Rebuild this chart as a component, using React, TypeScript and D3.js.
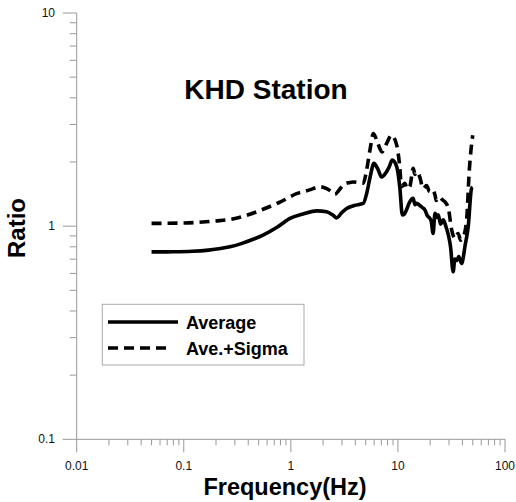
import React from "react";
import * as d3 from "d3";

const avgFreq = [0.05, 0.08, 0.12, 0.17, 0.22, 0.27, 0.35, 0.45, 0.55, 0.75, 0.98, 1.3, 1.74, 2.16, 2.45, 2.68, 3.0, 3.32, 3.9, 4.74, 5.1, 5.5, 5.97, 6.5, 7.04, 7.83, 8.3, 8.85, 9.74, 10.4, 11.0, 11.5, 12.0, 12.9, 13.9, 14.4, 15.0, 16.0, 17.0, 17.9, 18.8, 19.8, 20.5, 21.3, 22.2, 23.0, 23.8, 25.0, 26.5, 28.0, 29.6, 31.0, 32.8, 34.0, 35.3, 37.0, 39.4, 40.5, 42.2, 45.3, 48.7, 50];
const avgVal = [0.757, 0.758, 0.762, 0.772, 0.785, 0.8, 0.83, 0.87, 0.908, 0.99, 1.087, 1.14, 1.18, 1.167, 1.13, 1.094, 1.16, 1.21, 1.25, 1.278, 1.42, 1.7, 1.97, 1.85, 1.7, 1.8, 1.9, 2.04, 1.9, 1.53, 1.13, 1.14, 1.19, 1.3, 1.35, 1.26, 1.28, 1.25, 1.22, 1.19, 1.12, 1.09, 1.05, 0.924, 1.15, 1.1, 1.13, 1.02, 1.07, 1.0, 0.908, 0.8, 0.61, 0.7, 0.69, 0.72, 0.668, 0.7, 0.8, 0.99, 1.5, 1.52];

const sigFreq = [0.05, 0.1, 0.15, 0.2, 0.27, 0.4, 0.55, 0.8, 1.13, 1.5, 1.87, 2.16, 2.4, 2.58, 2.8, 3.09, 3.5, 3.83, 4.74, 5.1, 5.5, 5.9, 6.5, 7.1, 7.83, 8.7, 9.74, 10.4, 10.8, 11.6, 12.2, 12.9, 13.9, 14.4, 15.0, 16.0, 17.2, 18.5, 19.8, 21.0, 22.2, 22.8, 24.5, 26.0, 27.5, 29.6, 31.8, 34.1, 36.5, 38.5, 40.8, 43.8, 46.4, 50];
const sigVal = [1.03, 1.035, 1.045, 1.058, 1.075, 1.13, 1.2, 1.3, 1.42, 1.48, 1.53, 1.5, 1.45, 1.41, 1.47, 1.56, 1.6, 1.61, 1.59, 1.83, 2.3, 2.72, 2.44, 2.23, 2.44, 2.67, 2.4, 1.9, 1.53, 1.59, 1.5, 1.53, 1.87, 1.75, 1.8, 1.7, 1.5, 1.55, 1.45, 1.48, 1.4, 1.32, 1.37, 1.33, 1.3, 1.21, 0.958, 0.875, 0.924, 0.86, 0.89, 1.07, 1.83, 2.67];

const xTicks = [0.01, 0.1, 1, 10, 100];
const xTickLabels = ["0.01", "0.1", "1", "10", "100"];
const yTicks = [0.1, 1, 10];
const yTickLabels = ["0.1", "1", "10"];

const FONT = "Liberation Sans, Arial, sans-serif";

export default function App() {
  const x = d3.scaleLog().domain([0.01, 100]).range([76.7, 505]);
  const y = d3.scaleLog().domain([0.1, 10]).range([439.3, 13]);
  const line = d3
    .line<[number, number]>()
    .x((d) => x(d[0]))
    .y((d) => y(d[1]))
    .curve(d3.curveMonotoneX);
  const avgPts = avgFreq.map((f, i) => [f, avgVal[i]] as [number, number]);
  const sigPts = sigFreq.map((f, i) => [f, sigVal[i]] as [number, number]);

  const minorX: number[] = [];
  for (let e = -2; e < 2; e++) for (let k = 2; k <= 9; k++) minorX.push(k * Math.pow(10, e));
  const minorY: number[] = [];
  for (let e = -1; e < 1; e++) for (let k = 2; k <= 9; k++) minorY.push(k * Math.pow(10, e));
  const axisColor = "#999";

  return (
    <svg width={516} height={502} style={{ position: "absolute", left: 0, top: 0, background: "#fff" }}>
      <rect width={516} height={502} fill="#fff" />
      <line x1={x(0.01)} x2={x(100)} y1={y(0.1)} y2={y(0.1)} stroke={axisColor} strokeWidth={1} />
      <line x1={x(0.01)} x2={x(0.01)} y1={y(0.1)} y2={y(10)} stroke={axisColor} strokeWidth={1} />
      {xTicks.map((t) => (
        <line key={"xt" + t} x1={x(t)} x2={x(t)} y1={y(0.1)} y2={y(0.1) + 13} stroke={axisColor} />
      ))}
      {minorX.map((t) => (
        <line key={"xm" + t} x1={x(t)} x2={x(t)} y1={y(0.1)} y2={y(0.1) + 6} stroke={axisColor} />
      ))}
      {yTicks.map((t) => (
        <line key={"yt" + t} x1={x(0.01) - 14} x2={x(0.01)} y1={y(t)} y2={y(t)} stroke={axisColor} />
      ))}
      {minorY.map((t) => (
        <line key={"ym" + t} x1={x(0.01) - 7} x2={x(0.01)} y1={y(t)} y2={y(t)} stroke={axisColor} />
      ))}
      {xTicks.map((t, i) => (
        <text key={"xl" + t} x={x(t)} y={470} textAnchor="middle" fontFamily={FONT} fontSize={12} fill="#111">
          {xTickLabels[i]}
        </text>
      ))}
      {yTicks.map((t, i) => (
        <text key={"yl" + t} x={55} y={y(t) + 4} textAnchor="end" fontFamily={FONT} fontSize={12} fill="#111">
          {yTickLabels[i]}
        </text>
      ))}
      <text x={266} y={99} textAnchor="middle" fontFamily={FONT} fontWeight="bold" fontSize={28}>
        KHD Station
      </text>
      <text x={285} y={494.5} textAnchor="middle" fontFamily={FONT} fontWeight="bold" fontSize={23.5}>
        Frequency(Hz)
      </text>
      <text
        transform="translate(25,228) rotate(-90)"
        textAnchor="middle"
        fontFamily={FONT}
        fontWeight="bold"
        fontSize={24}
      >
        Ratio
      </text>
      <path d={line(sigPts) || ""} fill="none" stroke="#000" strokeWidth={3.6} strokeDasharray="10,6" />
      <path d={line(avgPts) || ""} fill="none" stroke="#000" strokeWidth={3.6} />
      <rect x={102.3} y={304.3} width={201.7} height={60.7} fill="#fff" stroke="#aaa" strokeWidth={1} />
      <line x1={108} x2={178} y1={322} y2={322} stroke="#000" strokeWidth={3.5} />
      <line x1={108} x2={172} y1={348} y2={348} stroke="#000" strokeWidth={3.5} strokeDasharray="10,6" />
      <text x={186} y={328.5} fontFamily={FONT} fontWeight="bold" fontSize={18}>
        Average
      </text>
      <text x={186} y={354.5} fontFamily={FONT} fontWeight="bold" fontSize={18}>
        Ave.+Sigma
      </text>
    </svg>
  );
}
